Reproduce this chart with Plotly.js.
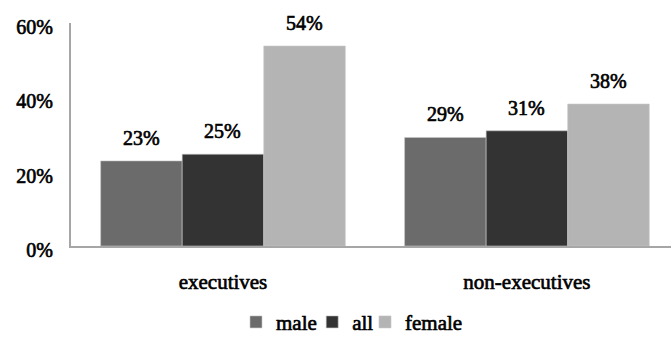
<!DOCTYPE html>
<html>
<head>
<meta charset="utf-8">
<script src="https://cdn.plot.ly/plotly-3.0.1.min.js"></script>
<style>
html,body{margin:0;padding:0;background:#fff;}
#chart{width:671px;height:343px;}
#chart svg text{stroke:#000;stroke-width:0.65px;}
</style>
</head>
<body>
<div id="chart"></div>
<script>
var categories = ["executives", "non-executives"];
var seriesNames = ["male", "all", "female"];
var maleValues = [22.9, 29.2];
var allValues = [24.7, 31.0];
var femaleValues = [53.8, 38.2];
var yTickValues = [0, 20, 40, 60];
var yTickLabels = ["0%", "20%", "40%", "60%"];

var colors = ["#6b6b6b", "#333333", "#b4b4b4"];
var seriesValues = [maleValues, allValues, femaleValues];
var legendIds = ["legend", "legend2", "legend3"];
var legendX = [0.275, 0.402, 0.49];
var FONT = "Liberation Serif";
var bargap = 0.195;
var barW = (1 - bargap) / 3;

var traces = seriesValues.map(function (vals, s) {
  return {
    type: "bar",
    name: seriesNames[s],
    x: categories,
    y: vals,
    legend: legendIds[s],
    marker: {color: colors[s], line: {color: "#c8c8c8", width: 0.6}},
    hoverinfo: "skip"
  };
});

var annotations = [];
seriesValues.forEach(function (vals, s) {
  vals.forEach(function (v, i) {
    annotations.push({
      x: i + (s - 1) * barW,
      y: v,
      xref: "x", yref: "y",
      text: Math.round(v) + "%",
      showarrow: false,
      yanchor: "middle",
      yshift: 23,
      font: {family: FONT, size: 20, color: "#000"}
    });
  });
});

var layout = {
  width: 671, height: 343,
  margin: {l: 71, r: 0, t: 23, b: 92},
  paper_bgcolor: "#fff", plot_bgcolor: "#fff",
  barmode: "group",
  bargap: bargap,
  bargroupgap: 0,
  showlegend: true,
  font: {family: FONT, size: 20, color: "#000"},
  xaxis: {
    type: "category",
    range: [-0.5, 1.474],
    showline: true, linecolor: "#a6a6a6", linewidth: 2,
    ticks: "", showgrid: false, zeroline: false,
    ticklabelstandoff: 16,
    tickfont: {family: FONT, size: 21, color: "#000"}
  },
  yaxis: {
    range: [0, 60],
    tickvals: yTickValues, ticktext: yTickLabels,
    showline: true, linecolor: "#a6a6a6", linewidth: 2,
    ticks: "", showgrid: false, zeroline: false,
    ticklabelstandoff: 12,
    ticklabelshift: 4,
    tickfont: {family: FONT, size: 20, color: "#000"}
  },
  annotations: annotations
};
legendIds.forEach(function (id, s) {
  layout[id] = {
    orientation: "h",
    x: legendX[s], xanchor: "left",
    y: -0.342, yanchor: "middle",
    font: {family: FONT, size: 21, color: "#000"},
    itemwidth: 30,
    bgcolor: "rgba(0,0,0,0)"
  };
});

Plotly.newPlot("chart", traces, layout, {displayModeBar: false, staticPlot: true});
</script>
</body>
</html>
